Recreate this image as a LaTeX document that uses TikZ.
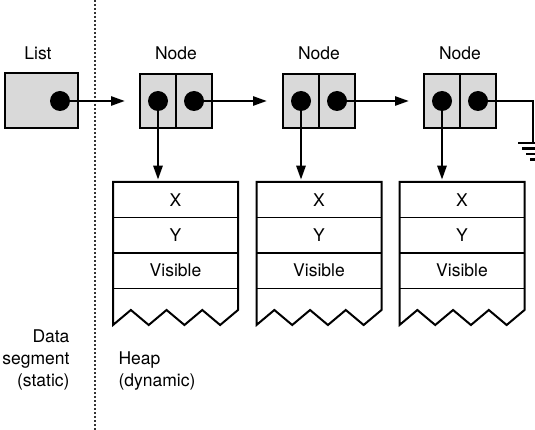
\documentclass[tikz,border=0pt]{standalone}
\usepackage{fontspec}
\setmainfont{TeX Gyre Heros}
\usetikzlibrary{arrows.meta}
\begin{document}
\begin{tikzpicture}[x=1pt,y=-1pt,
  every node/.style={font=\fontsize{17.5}{20}\selectfont},
  cell/.style={draw=black,line width=2pt,fill=black!15,minimum width=36pt,minimum height=54pt,inner sep=0pt},
  listbox/.style={draw=black,line width=2pt,fill=black!15,minimum width=73pt,minimum height=55pt,inner sep=0pt},
  dot/.style={circle,fill=black,minimum size=20pt,inner sep=0pt},
  field/.style={draw=black,line width=1.5pt,minimum width=125pt,minimum height=35.5pt,inner sep=0pt},
  ptr/.style={line width=2.6pt,-{Triangle[length=14pt,width=9pt]}},
  heapline/.style={line width=2pt,line join=miter}]
\useasboundingbox (0,0) rectangle (535,430);
% divider
\coordinate (dtop) at (95,0);
\coordinate (dbot) at (95,430);
\draw[line width=2pt,dotted,black!80] (dtop) -- (dbot);
% list
\node (listlbl) at (38,53) {List};
\node[listbox] (list) at (41.5,100.5) {};
\node[dot] (ld) at (60,101) {};
% nodes
\foreach \i/\cx in {1/176,2/319,3/460}{
  \node (nl\i) at (\cx,53) {Node};
  \node[cell] (n\i a) at (\cx-18,101) {};
  \node[cell] (n\i b) at (\cx+18,101) {};
  \node[dot] (d\i a) at (n\i a.center) {};
  \node[dot] (d\i b) at (n\i b.center) {};
}
% heaps
\foreach \i/\cx in {1/175.5,2/319,3/462}{
  \pgfmathsetmacro{\L}{\cx-62.5}
  \pgfmathsetmacro{\p}{125/3.5}
  \node[field] (x\i) at (\cx,199.75) {X};
  \node[field] (y\i) at (\cx,235.25) {Y};
  \node[field] (v\i) at (\cx,270.75) {Visible};
  \draw[heapline] (\L,182) -- (\L+125,182) -- (\L+125,310)
     -- (\L+3*\p,325) -- (\L+2.5*\p,310) -- (\L+2*\p,325) -- (\L+1.5*\p,310)
     -- (\L+\p,325) -- (\L+0.5*\p,310) -- (\L,325) -- cycle;
  \draw[ptr,shorten >=1.5pt] (d\i a.center) -- (d\i a.center |- x\i.north);
}
% horizontal pointers
\draw[ptr,shorten >=14pt] (ld.center) -- (n1a.west);
\draw[ptr,shorten >=15pt] (d1b.center) -- (n2a.west);
\draw[ptr,shorten >=14pt] (d2b.center) -- (n3a.west);
% ground
\coordinate (gc) at (533,143);
\draw[line width=2.4pt] (d3b.center) -- (gc |- d3b.center) -- (gc);
\draw[line width=2.4pt] ([xshift=-15pt]gc) -- ([xshift=15pt]gc)
  ([xshift=-11pt,yshift=-5.5pt]gc) -- ([xshift=11pt,yshift=-5.5pt]gc)
  ([xshift=-7pt,yshift=-11pt]gc) -- ([xshift=7pt,yshift=-11pt]gc)
  ([xshift=-3pt,yshift=-16.5pt]gc) -- ([xshift=3pt,yshift=-16.5pt]gc);
% bottom labels
\node[anchor=east,align=right] (dseg) at (73,360) {Data\\[2pt]segment\\[2pt](static)};
\node[anchor=west,align=left] (heap) at (115,371) {Heap\\[2pt](dynamic)};
\end{tikzpicture}
\end{document}
